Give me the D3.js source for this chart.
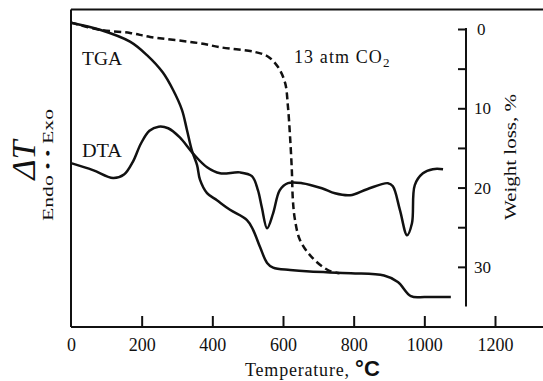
<!DOCTYPE html>
<html>
<head>
<meta charset="utf-8">
<script src="https://cdn.jsdelivr.net/npm/d3@7"></script>
<style>
  html, body { margin: 0; padding: 0; background: #fff; }
  svg { display: block; }
  text { font-family: "Liberation Serif", "DejaVu Serif", serif; fill: #111; }
</style>
</head>
<body>
<svg id="chart" width="543" height="381"></svg>
<script>
// ---- data ----
const tgaTemp = [0, 82, 167, 215, 260, 289, 314, 328, 342, 357, 365, 385, 413, 450, 498, 515, 535, 555, 572, 620, 676, 792, 886, 925, 962, 1002, 1075];
const tgaLoss = [-0.8, 0.1, 1.6, 3.3, 5.5, 7.7, 10.2, 12.7, 15.3, 17.2, 19.0, 20.7, 21.6, 22.8, 24.1, 25.3, 27.5, 29.5, 30.1, 30.4, 30.6, 30.8, 31.1, 31.9, 33.7, 33.8, 33.8];

const co2Temp = [0, 82, 167, 224, 365, 422, 521, 558, 586, 606, 614, 620, 625, 628, 634, 648, 682, 727, 760];
const co2Loss = [-0.8, 0.1, 0.5, 1.0, 1.8, 2.3, 2.9, 3.5, 4.8, 6.8, 9.8, 13.6, 17.8, 21.6, 24.1, 26.6, 28.8, 30.4, 30.8];

const dtaTemp = [0, 62, 119, 150, 175, 198, 222, 248, 275, 308, 345, 385, 422, 478, 512, 529, 540, 555, 572, 591, 614, 654, 710, 747, 790, 838, 897, 911, 931, 951, 965, 973, 996, 1024, 1053];
const dtaSignal = [51.6, 49.4, 46.9, 48.0, 52.0, 57.8, 61.8, 63.1, 62.6, 59.7, 54.7, 50.3, 48.4, 48.7, 47.5, 43.1, 37.7, 31.1, 35.8, 43.1, 45.3, 45.3, 43.7, 42.1, 41.5, 43.4, 45.3, 44.3, 36.8, 28.9, 32.7, 44.7, 48.4, 49.7, 49.7];

const xTickValues = [0, 200, 400, 600, 800, 1000, 1200];
const xTickLabels = ["0", "200", "400", "600", "800", "1000", "1200"];
const yTickValues = [0, 5, 10, 15, 20, 25, 30];
const yTickLabels = ["0", "10", "20", "30"];
const yLabelValues = [0, 10, 20, 30];

// ---- layout ----
const svg = d3.select("#chart");
const plotLeft = 71, plotTop = 9.5, plotBottom = 327, plotRightEdge = 543;
const x = d3.scaleLinear().domain([0, 1200]).range([71, 495]);
const yW = d3.scaleLinear().domain([0, 35]).range([29, 306.5]);
const yD = d3.scaleLinear().domain([0, 100]).range([plotBottom, plotTop]);
const axisX = 466;

const ink = "#111";

// frame: left, top, bottom
svg.append("line").attr("x1", plotLeft).attr("x2", plotLeft).attr("y1", plotTop).attr("y2", plotBottom)
  .attr("stroke", ink).attr("stroke-width", 2);
svg.append("line").attr("x1", plotLeft).attr("x2", plotRightEdge).attr("y1", plotTop).attr("y2", plotTop)
  .attr("stroke", ink).attr("stroke-width", 2);

// bottom axis with inward ticks
const xAxis = d3.axisBottom(x).tickValues(xTickValues).tickSize(-11).tickPadding(22)
  .tickFormat((d, i) => xTickLabels[i]);
const gx = svg.append("g").attr("transform", `translate(0,${plotBottom})`).call(xAxis);
gx.select(".domain").remove();
gx.selectAll(".tick line").attr("stroke", ink).attr("stroke-width", 2)
  .filter(d => d === 0).remove();
gx.selectAll(".tick text").attr("font-size", 18).attr("font-family", "Liberation Serif")
  .attr("fill", ink).attr("dy", "0.1em");
svg.append("line").attr("x1", plotLeft).attr("x2", plotRightEdge).attr("y1", plotBottom).attr("y2", plotBottom)
  .attr("stroke", ink).attr("stroke-width", 2);

// right weight-loss axis
const yAxis = d3.axisLeft(yW).tickValues(yTickValues).tickSize(8)
  .tickFormat(() => "");
const gy = svg.append("g").attr("transform", `translate(${axisX},0)`).call(yAxis);
gy.select(".domain").remove();
gy.selectAll(".tick line").attr("stroke", ink).attr("stroke-width", 2);
svg.append("line").attr("x1", axisX).attr("x2", axisX).attr("y1", yW(0) - 1).attr("y2", yW(35))
  .attr("stroke", ink).attr("stroke-width", 2);
svg.append("g").selectAll("text").data(yLabelValues).join("text")
  .attr("x", d => axisX + (d === 0 ? 11 : 8)).attr("y", d => yW(d)).attr("dy", "0.35em")
  .attr("font-size", 17).text((d, i) => yTickLabels[i]);

// curves
const lineW = d3.line().x(d => x(d[0])).y(d => yW(d[1])).curve(d3.curveCatmullRom.alpha(0.5));
const lineD = d3.line().x(d => x(d[0])).y(d => yD(d[1])).curve(d3.curveCatmullRom.alpha(0.5));

svg.append("path").datum(co2Temp.map((t, i) => [t, co2Loss[i]]))
  .attr("d", lineW).attr("fill", "none").attr("stroke", ink).attr("stroke-width", 2.5)
  .attr("stroke-dasharray", "7,4");
svg.append("path").datum(tgaTemp.map((t, i) => [t, tgaLoss[i]]))
  .attr("d", lineW).attr("fill", "none").attr("stroke", ink).attr("stroke-width", 2.5);
svg.append("path").datum(dtaTemp.map((t, i) => [t, dtaSignal[i]]))
  .attr("d", lineD).attr("fill", "none").attr("stroke", ink).attr("stroke-width", 2.5);

// in-plot labels
svg.append("text").attr("x", 82).attr("y", 65).attr("font-size", 18).attr("textLength", 40)
  .attr("lengthAdjust", "spacingAndGlyphs").text("TGA");
svg.append("text").attr("x", 82).attr("y", 157).attr("font-size", 18).attr("textLength", 40)
  .attr("lengthAdjust", "spacingAndGlyphs").text("DTA");
const co2 = svg.append("text").attr("x", 294).attr("y", 63).attr("font-size", 18)
  .attr("letter-spacing", 1.1);
co2.append("tspan").text("13 atm CO");
co2.append("tspan").attr("font-size", 13).attr("dy", 4).text("2");

// axis titles
svg.append("text").attr("transform", "translate(35,160) rotate(-90)")
  .attr("text-anchor", "middle").attr("font-size", 34).attr("font-style", "italic")
  .text("ΔT");
svg.append("text").attr("transform", "translate(53,165) rotate(-90)")
  .attr("text-anchor", "middle").attr("font-size", 14).attr("textLength", 112)
  .attr("lengthAdjust", "spacingAndGlyphs").text("Endo • • Exo");
svg.append("text").attr("transform", "translate(516,157) rotate(-90)")
  .attr("text-anchor", "middle").attr("font-size", 17).attr("textLength", 126)
  .attr("lengthAdjust", "spacingAndGlyphs").text("Weight loss, %");

const xt = svg.append("text").attr("x", 245).attr("y", 376).attr("font-size", 18);
xt.append("tspan").attr("letter-spacing", 0.8).text("Temperature, ");
xt.append("tspan").attr("font-family", "Liberation Sans").attr("font-weight", "bold")
  .attr("font-size", 22).text("°C");
</script>
</body>
</html>
